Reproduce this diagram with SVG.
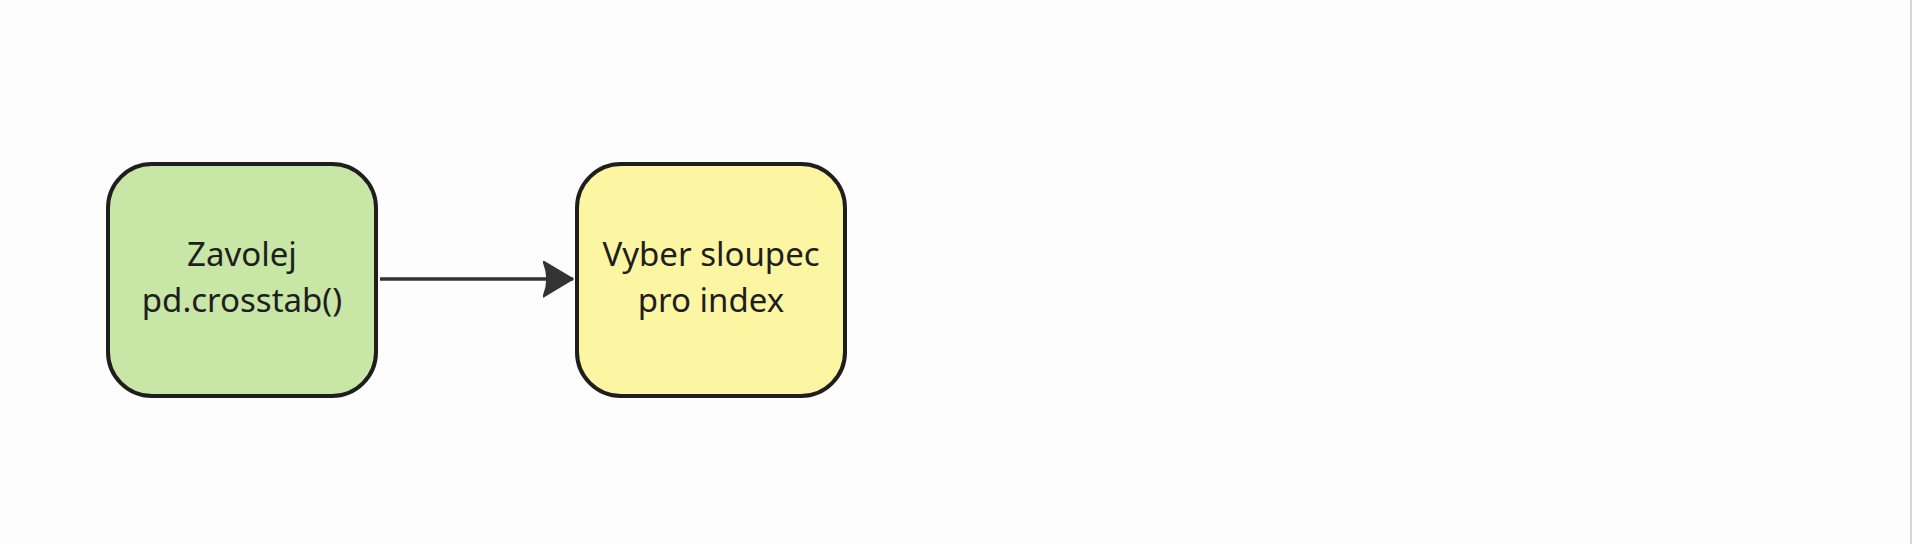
<svg xmlns="http://www.w3.org/2000/svg" width="1912" height="544" viewBox="0 0 1912 544">
<defs>
<style>
.node rect{stroke:#1e1e1e;stroke-width:4}
.node text{font-family:"Noto Sans","Open Sans",sans-serif;font-size:33px;fill:#1e1e1e;text-anchor:middle}
.edge{stroke:#333;stroke-width:3.5;fill:none}
</style>
<marker id="arr" markerUnits="userSpaceOnUse" markerWidth="34" markerHeight="38" refX="30" refY="18" orient="auto" viewBox="0 0 34 38">
<path d="M0,0 L30,18 L0,36 Q8,18 0,0 Z" fill="#333" stroke="#333" stroke-width="1.5" stroke-linejoin="round"/>
</marker>
</defs>
<rect width="1912" height="544" fill="#fdfdfd"/>
<line x1="1911" y1="0" x2="1911" y2="544" stroke="#d8d8d8" stroke-width="2"/>
<g id="connectors">
<path class="edge" d="M380,279 L573,279" marker-end="url(#arr)"/>
</g>
<g id="node-zavolej" class="node">
<rect x="108" y="164" width="268" height="232" rx="44" fill="#c8e6a5"/>
<text x="242" y="266">Zavolej</text>
<text x="242" y="312">pd.crosstab()</text>
</g>
<g id="node-vyber" class="node">
<rect x="577" y="164" width="268" height="232" rx="44" fill="#fcf6a2"/>
<text x="711" y="266">Vyber sloupec</text>
<text x="711" y="312">pro index</text>
</g>
</svg>
